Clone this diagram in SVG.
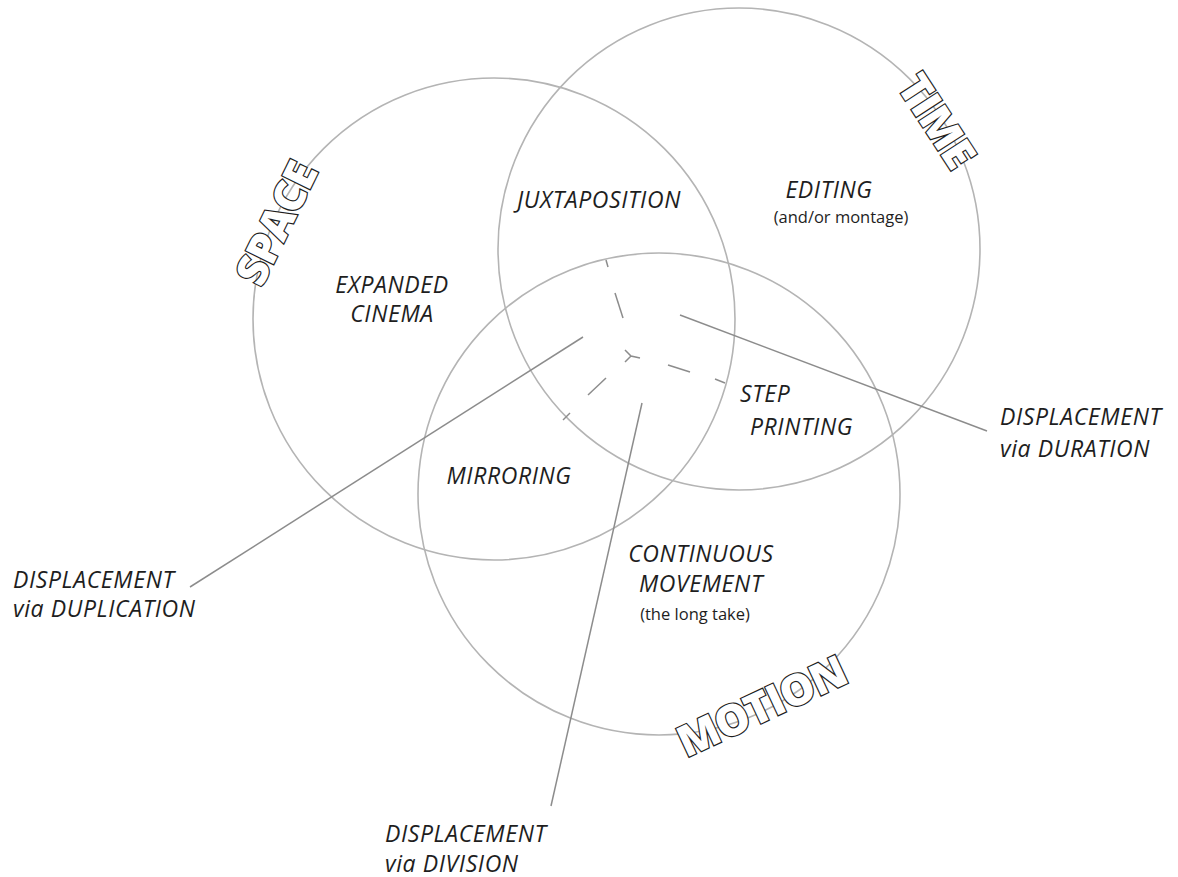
<svg xmlns="http://www.w3.org/2000/svg" width="1178" height="877" viewBox="0 0 1178 877">
  <style>
    .ring { fill: none; stroke: #b4b4b4; stroke-width: 1.6; }
    .lead { fill: none; stroke: #8c8c8c; stroke-width: 1.5; }
    .dash { fill: none; stroke: #8c8c8c; stroke-width: 1.5; }
    .lbl { font-family: "Open Sans", "Noto Sans", sans-serif; font-style: italic; font-weight: 500; font-size: 23px; letter-spacing: 0.6px; fill: #1e1e1e; }
    .sub { font-family: "Open Sans", "Noto Sans", sans-serif; font-weight: 500; font-size: 16.5px; fill: #1e1e1e; }
    .big { font-family: "Open Sans", "Noto Sans", sans-serif; font-weight: 800; font-size: 43px; fill: #ffffff; stroke: #1e1e1e; stroke-width: 2.4; paint-order: stroke; letter-spacing: -1px; }
  </style>
  <rect width="1178" height="877" fill="#ffffff"/>

  <!-- three overlapping domains -->
  <g id="circles">
    <circle id="space-ring" class="ring" cx="494" cy="319" r="241"/>
    <circle id="time-ring" class="ring" cx="739" cy="249" r="241"/>
    <circle id="motion-ring" class="ring" cx="659" cy="494" r="241"/>
  </g>

  <!-- leaders and dashed dividers -->
  <g id="connectors">
    <line class="lead" x1="583" y1="337" x2="190" y2="587"/>
    <line class="lead" x1="642" y1="403" x2="551" y2="806"/>
    <line class="lead" x1="680" y1="315" x2="987" y2="431"/>
    <!-- Y junction -->
    <path class="dash" d="M625 350 L631 356 L640 358 M631 356 L625 362"/>
    <!-- up branch -->
    <line class="dash" x1="615" y1="293" x2="623" y2="318"/>
    <line class="dash" x1="606" y1="260" x2="608" y2="267"/>
    <!-- right branch -->
    <line class="dash" x1="668" y1="365" x2="690" y2="372"/>
    <line class="dash" x1="715" y1="379" x2="725" y2="383"/>
    <!-- down-left branch -->
    <line class="dash" x1="588" y1="395" x2="606" y2="378"/>
    <line class="dash" x1="563" y1="420" x2="570" y2="413"/>
  </g>

  <g id="space-label">
    <text class="big" x="0" y="0" text-anchor="middle" transform="translate(290,230) rotate(-64)">SPACE</text>
  </g>
  <g id="time-label">
    <text class="big" x="0" y="0" text-anchor="middle" transform="translate(924,129) rotate(57)">TIME</text>
  </g>
  <g id="motion-label">
    <text class="big" x="0" y="0" text-anchor="middle" transform="translate(768,720) rotate(-25)">MOTION</text>
  </g>

  <g id="juxtaposition">
    <text class="lbl" x="599" y="208" text-anchor="middle">JUXTAPOSITION</text>
  </g>
  <g id="editing">
    <text class="lbl" x="829" y="198" text-anchor="middle">EDITING</text>
    <text class="sub" x="841" y="223" text-anchor="middle">(and/or montage)</text>
  </g>
  <g id="expanded-cinema">
    <text class="lbl" x="392" y="293" text-anchor="middle">EXPANDED</text>
    <text class="lbl" x="392" y="322" text-anchor="middle">CINEMA</text>
  </g>
  <g id="step-printing">
    <text class="lbl" x="740" y="402">STEP</text>
    <text class="lbl" x="750" y="435">PRINTING</text>
  </g>
  <g id="mirroring">
    <text class="lbl" x="509" y="484" text-anchor="middle">MIRRORING</text>
  </g>
  <g id="continuous-movement">
    <text class="lbl" x="701" y="562" text-anchor="middle">CONTINUOUS</text>
    <text class="lbl" x="701" y="592" text-anchor="middle">MOVEMENT</text>
    <text class="sub" x="695" y="620" text-anchor="middle">(the long take)</text>
  </g>
  <g id="duplication">
    <text class="lbl" x="13" y="588">DISPLACEMENT</text>
    <text class="lbl" x="13" y="617">via DUPLICATION</text>
  </g>
  <g id="division">
    <text class="lbl" x="385" y="842">DISPLACEMENT</text>
    <text class="lbl" x="385" y="872">via DIVISION</text>
  </g>
  <g id="duration">
    <text class="lbl" x="1000" y="425">DISPLACEMENT</text>
    <text class="lbl" x="1000" y="457">via DURATION</text>
  </g>
</svg>
